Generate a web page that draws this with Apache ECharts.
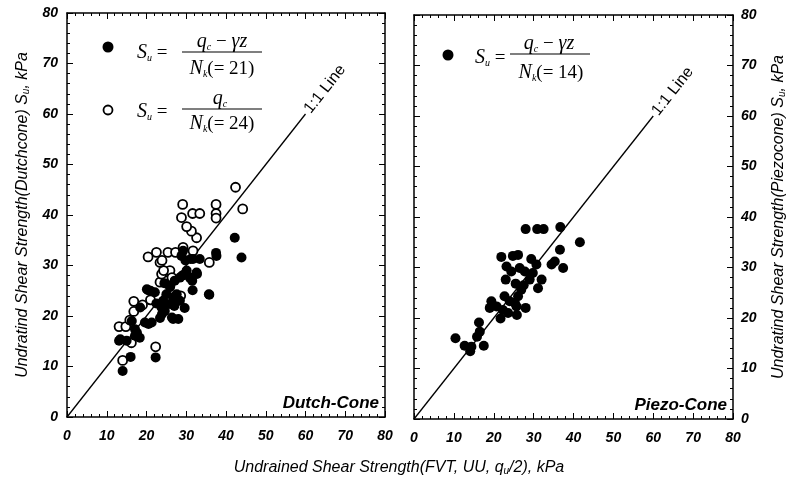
<!DOCTYPE html>
<html><head><meta charset="utf-8">
<script src="https://cdn.jsdelivr.net/npm/echarts@6/dist/echarts.min.js"></script>
<style>html,body{margin:0;padding:0;background:#fff}#c{width:798px;height:482px}</style>
</head><body><div id="c"></div>
<script>
// ---- data ----
const axisMin = 0, axisMax = 80, axisStep = 10;
const oneToOne = [[0, 0], [60, 60]];
const lineLabel = '1:1 Line';
const panelNames = ['Dutch-Cone', 'Piezo-Cone'];
const dutchFilled = [
  [14.0,9.1],[16.0,11.9],[22.3,11.8],[13.1,15.1],[15.0,15.1],[17.1,16.1],[18.3,15.7],[17.1,17.4],
  [19.6,18.7],[21.3,18.7],[16.3,19.0],[18.4,21.7],[20.1,25.3],[21.0,25.0],[20.4,25.1],[22.1,24.7],
  [23.4,19.6],[26.7,19.4],[28.0,19.4],[24.6,21.0],[23.8,21.7],[25.9,22.4],[24.2,23.0],[26.7,23.7],
  [25.0,24.3],[27.6,24.3],[28.4,23.0],[25.9,25.7],[27.1,27.0],[28.4,27.6],[29.6,21.6],[31.6,25.1],
  [35.8,24.2],[30.9,27.6],[32.6,28.6],[30.1,29.0],[28.8,31.9],[29.2,32.9],[31.7,31.3],[33.4,31.3],
  [37.5,32.5],[37.6,31.9],[42.2,35.5],[43.9,31.6],[29.8,31.0],[31.1,31.3],[32.7,28.3],[31.5,27.0],
  [35.7,24.3],[26.4,19.7],[23.9,20.4],[20.5,18.4],[17.6,16.7],[13.4,15.4],[29.0,28.0],[26.0,26.0],
  [27.0,22.0],[24.5,26.5],[22.5,22.5]
];
const dutchOpen = [
  [14.0,11.2],[16.2,14.7],[22.3,13.9],[13.1,17.9],[14.8,17.9],[15.8,19.2],[16.8,20.9],[16.8,22.9],
  [19.0,22.2],[21.0,23.2],[28.6,24.0],[23.4,26.7],[24.9,27.0],[23.8,28.3],[25.9,29.0],[24.3,29.0],
  [23.4,30.6],[20.4,31.7],[22.5,32.6],[25.4,32.6],[27.3,32.6],[29.2,33.6],[31.7,32.9],[35.8,30.6],
  [32.6,35.5],[31.3,36.8],[30.1,37.7],[28.8,39.5],[29.1,42.1],[31.6,40.3],[33.4,40.3],[37.5,42.1],
  [37.5,40.3],[37.5,39.4],[44.2,41.2],[42.4,45.5],[26.4,27.6],[23.9,31.0]
];
const piezoFilled = [
  [28.0,37.6],[30.9,37.6],[32.5,37.6],[36.7,38.0],[41.6,35.0],[36.6,33.5],[21.9,32.1],[24.8,32.3],
  [26.1,32.5],[29.4,31.7],[34.5,30.6],[35.3,31.2],[37.4,29.9],[23.2,30.2],[24.4,29.2],[26.5,29.9],
  [27.8,29.2],[30.7,30.6],[29.8,28.9],[29.0,27.6],[23.0,27.6],[32.0,27.6],[31.1,25.9],[26.9,25.6],
  [26.1,24.3],[22.7,24.3],[24.0,23.3],[25.3,23.0],[19.4,23.3],[19.0,22.0],[20.7,22.3],[22.3,21.6],
  [23.6,21.0],[25.7,22.3],[28.0,22.0],[25.8,20.6],[21.7,19.9],[16.3,19.1],[16.5,17.3],[15.8,16.3],
  [10.4,16.0],[12.7,14.5],[14.4,14.3],[14.1,13.4],[17.5,14.5],[27.5,26.5],[25.5,26.8]
];

// ---- styling ----
const SANS = 'Liberation Sans';
const SERIF = 'Liberation Serif';
const black = '#000';
const lbl = {fontFamily: SANS, fontStyle: 'italic', fontWeight: 'bold', fontSize: 14, color: black};

function axisBase(extra) {
  return Object.assign({
    type: 'value', min: axisMin, max: axisMax, interval: axisStep,
    axisLine: {show: true, onZero: false, lineStyle: {color: black, width: 1.5}},
    axisTick: {show: true, inside: true, length: 6, lineStyle: {color: black, width: 1}},
    minorTick: {show: true, splitNumber: 5, length: 3, lineStyle: {color: black, width: 1}},
    splitLine: {show: false},
    axisLabel: Object.assign({show: false}, lbl)
  }, extra);
}
const subRich = {
  n: {fontFamily: SANS, fontStyle: 'italic', fontWeight: 'normal', fontSize: 16, color: black},
  sub: {fontFamily: SANS, fontStyle: 'italic', fontWeight: 'normal', fontSize: 10, color: black, verticalAlign: 'bottom', lineHeight: 8}
};

const grids = [
  {left: 67, right: 413, top: 13, bottom: 65},
  {left: 414, right: 65, top: 15, bottom: 63}
];

const xAxes = [
  axisBase({gridIndex: 0, position: 'bottom', axisLabel: Object.assign({show: true, margin: 12}, lbl)}),
  axisBase({gridIndex: 0, position: 'top'}),
  axisBase({gridIndex: 1, position: 'bottom', axisLabel: Object.assign({show: true, margin: 12}, lbl)}),
  axisBase({gridIndex: 1, position: 'top'})
];
const yAxes = [
  axisBase({gridIndex: 0, position: 'left', axisLabel: Object.assign({show: true, margin: 9}, lbl),
    name: '{n|Undratind Shear Strength(Dutchcone) S}{sub|u}{n|, kPa}', nameLocation: 'middle', nameRotate: 90, nameGap: 36,
    nameTextStyle: {rich: subRich}}),
  axisBase({gridIndex: 0, position: 'right'}),
  axisBase({gridIndex: 1, position: 'left'}),
  axisBase({gridIndex: 1, position: 'right', axisLabel: Object.assign({show: true, margin: 8}, lbl),
    name: '{n|Undratind Shear Strength(Piezocone) S}{sub|u}{n|, kPa}', nameLocation: 'middle', nameRotate: 90, nameGap: 38,
    nameTextStyle: {rich: subRich}})
];

const openStyle = {color: '#fff', borderColor: black, borderWidth: 1.8, opacity: 1};
const fillStyle = {color: black, opacity: 1};
const series = [
  {type: 'line', xAxisIndex: 0, yAxisIndex: 0, data: oneToOne, symbol: 'none', lineStyle: {color: black, width: 1.3}, z: 1, silent: true},
  {type: 'scatter', xAxisIndex: 0, yAxisIndex: 0, data: dutchOpen, symbol: 'circle', symbolSize: 9, itemStyle: openStyle, z: 2},
  {type: 'scatter', xAxisIndex: 0, yAxisIndex: 0, data: dutchFilled, symbol: 'circle', symbolSize: 10, itemStyle: fillStyle, z: 3},
  {type: 'line', xAxisIndex: 2, yAxisIndex: 2, data: oneToOne, symbol: 'none', lineStyle: {color: black, width: 1.3}, z: 1, silent: true},
  {type: 'scatter', xAxisIndex: 2, yAxisIndex: 2, data: piezoFilled, symbol: 'circle', symbolSize: 10, itemStyle: fillStyle, z: 3}
];

const mathRich = {
  i: {fontFamily: SERIF, fontStyle: 'italic', fontSize: 20, color: black},
  n: {fontFamily: SERIF, fontSize: 19, color: black},
  sub: {fontFamily: SERIF, fontStyle: 'italic', fontSize: 10, color: black, verticalAlign: 'bottom', lineHeight: 10}
};
function txt(x, y, text, align) {
  return {type: 'text', x: x, y: y, z: 10,
    style: {text: text, rich: mathRich, textAlign: align || 'center', textVerticalAlign: 'middle', align: align || 'center', verticalAlign: 'middle'}};
}
function bar(x1, x2, y) {
  return {type: 'line', z: 10, shape: {x1: x1, y1: y, x2: x2, y2: y}, style: {stroke: black, lineWidth: 1.2}};
}
function dot(x, y, filled) {
  return {type: 'circle', z: 10, shape: {cx: x, cy: y, r: filled ? 5.5 : 4.5},
    style: filled ? {fill: black} : {fill: '#fff', stroke: black, lineWidth: 1.8}};
}
const legendGraphics = [
  dot(108, 47, true),
  txt(137, 53, '{i|S}{sub|u}{n| =}', 'left'),
  txt(222, 42, '{i|q}{sub|c}{n| − }{i|γz}'),
  bar(182, 262, 52),
  txt(222, 69, '{i|N}{sub|k}{n|(= 21)}'),
  dot(108, 110, false),
  txt(137, 112, '{i|S}{sub|u}{n| =}', 'left'),
  txt(220, 99, '{i|q}{sub|c}'),
  bar(182, 262, 109),
  txt(222, 124, '{i|N}{sub|k}{n|(= 24)}'),
  dot(448, 55, true),
  txt(475, 58, '{i|S}{sub|u}{n| =}', 'left'),
  txt(549, 44, '{i|q}{sub|c}{n| − }{i|γz}'),
  bar(510, 590, 54),
  txt(551, 73, '{i|N}{sub|k}{n|(= 14)}')
];

const chart = echarts.init(document.getElementById('c'), null, {renderer: 'canvas'});
chart.setOption({
  animation: false,
  backgroundColor: '#fff',
  grid: grids,
  xAxis: xAxes,
  yAxis: yAxes,
  series: series,
  title: {
    text: '{n|Undrained Shear Strength(FVT, UU, q}{sub|u}{n|/2), kPa}',
    left: 'center', top: 455,
    textStyle: {fontWeight: 'normal', rich: subRich}
  },
  graphic: legendGraphics
});

// 1:1 labels and panel names positioned from the axes
const extra = [];
[[0, 0], [1, 2]].forEach(function (p, k) {
  const ax = p[1];
  const end = chart.convertToPixel({xAxisIndex: ax, yAxisIndex: ax}, oneToOne[1]);
  const o = chart.convertToPixel({xAxisIndex: ax, yAxisIndex: ax}, oneToOne[0]);
  const ang = Math.atan2(o[1] - end[1], end[0] - o[0]);
  extra.push({type: 'text', x: end[0] + 3 * Math.cos(ang), y: end[1] - 3 * Math.sin(ang), rotation: ang, z: 10,
    style: {text: lineLabel, fontFamily: SANS, fontSize: 16, fill: black, textAlign: 'left', textVerticalAlign: 'middle', align: 'left', verticalAlign: 'middle'}});
  const br = chart.convertToPixel({xAxisIndex: ax, yAxisIndex: ax}, [axisMax, axisMin]);
  extra.push({type: 'text', x: br[0] - 6, y: br[1] - 14, z: 10,
    style: {text: panelNames[k], fontFamily: SANS, fontStyle: 'italic', fontWeight: 'bold', fontSize: 17, fill: black,
      textAlign: 'right', textVerticalAlign: 'middle', align: 'right', verticalAlign: 'middle'}});
});
chart.setOption({graphic: legendGraphics.concat(extra)});
</script>
</body></html>
